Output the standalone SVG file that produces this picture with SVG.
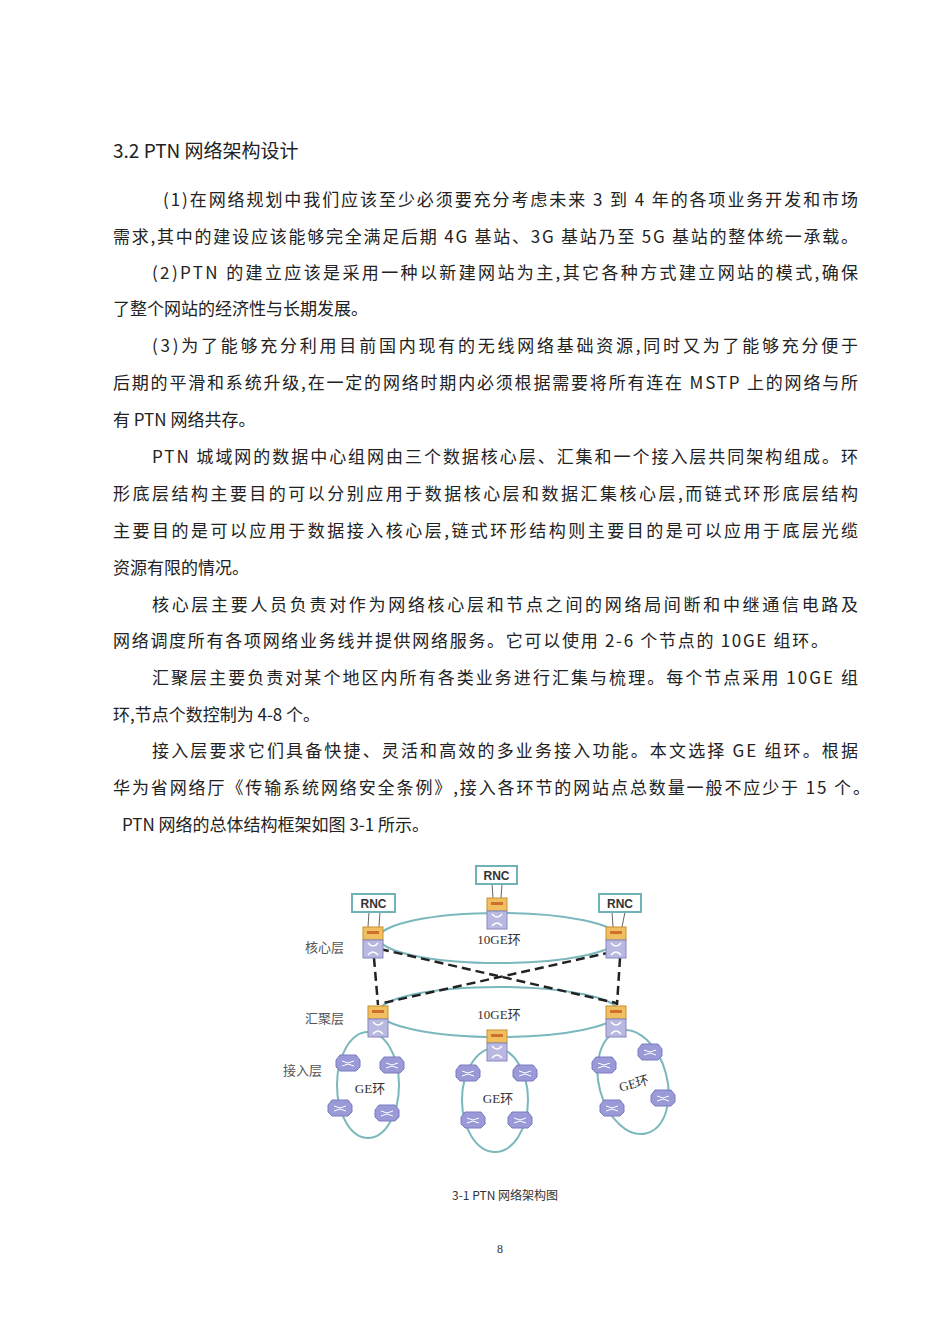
<svg xmlns="http://www.w3.org/2000/svg" width="950" height="1344" viewBox="0 0 950 1344">
<style>
.t{font-family:"Noto Sans CJK SC","Liberation Serif",serif;font-size:17px;fill:#222}
.l{font-family:"Noto Sans CJK SC",serif;font-size:13px;fill:#555}
.r{font-family:"Liberation Sans",sans-serif;font-size:12px;font-weight:bold;fill:#333}
.g{font-family:"Liberation Serif","Noto Sans CJK SC",serif;font-size:13px;fill:#333}
.ring{fill:none;stroke:#7bb8bd;stroke-width:2}
.rnc{fill:#fff;stroke:#6fb3b8;stroke-width:2}
.d{stroke:#222;stroke-width:2.5;stroke-dasharray:9,5;fill:none}
</style>
<defs>
<g id="sw"><rect x="-10" y="0" width="20" height="13" fill="#f0c060" stroke="#c89030"/><rect x="-6" y="4" width="12" height="3" fill="#d07030"/><rect x="-10" y="13" width="20" height="18" fill="#b8b8e0" stroke="#8888c0"/><path d="M-5 16 Q0 22 5 16 M-5 28 Q0 22 5 28" stroke="#fff" fill="none" stroke-width="1.5"/></g>
<g id="rt"><path d="M-12 -3 L-8 -8 L8 -8 L12 -3 L12 4 L8 8 L-8 8 L-12 4Z" fill="#9a9ad8" stroke="#7c7cc0"/><path d="M-6 -2 L0 0 L6 -2 M-6 3 L0 1 L6 3" stroke="#fff" fill="none"/></g>
</defs>
<rect width="950" height="1344" fill="#fff"/>
<text x="113" y="158" style="font-family:'Noto Sans CJK SC',sans-serif;font-size:19px;fill:#222">3.2 PTN 网络架构设计</text>
<g class="t">
<text x="163" y="206" textLength="695" lengthAdjust="spacing">(1)在网络规划中我们应该至少必须要充分考虑未来 3 到 4 年的各项业务开发和市场</text>
<text x="113" y="243" textLength="745" lengthAdjust="spacing">需求,其中的建设应该能够完全满足后期 4G 基站、3G 基站乃至 5G 基站的整体统一承载。</text>
<text x="152" y="279" textLength="706" lengthAdjust="spacing">(2)PTN 的建立应该是采用一种以新建网站为主,其它各种方式建立网站的模式,确保</text>
<text x="113" y="315">了整个网站的经济性与长期发展。</text>
<text x="152" y="352" textLength="706" lengthAdjust="spacing">(3)为了能够充分利用目前国内现有的无线网络基础资源,同时又为了能够充分便于</text>
<text x="113" y="389" textLength="745" lengthAdjust="spacing">后期的平滑和系统升级,在一定的网络时期内必须根据需要将所有连在 MSTP 上的网络与所</text>
<text x="113" y="426">有 PTN 网络共存。</text>
<text x="152" y="463" textLength="706" lengthAdjust="spacing">PTN 城域网的数据中心组网由三个数据核心层、汇集和一个接入层共同架构组成。环</text>
<text x="113" y="500" textLength="745" lengthAdjust="spacing">形底层结构主要目的可以分别应用于数据核心层和数据汇集核心层,而链式环形底层结构</text>
<text x="113" y="537" textLength="745" lengthAdjust="spacing">主要目的是可以应用于数据接入核心层,链式环形结构则主要目的是可以应用于底层光缆</text>
<text x="113" y="574">资源有限的情况。</text>
<text x="152" y="611" textLength="706" lengthAdjust="spacing">核心层主要人员负责对作为网络核心层和节点之间的网络局间断和中继通信电路及</text>
<text x="113" y="647" textLength="715" lengthAdjust="spacing">网络调度所有各项网络业务线并提供网络服务。它可以使用 2-6 个节点的 10GE 组环。</text>
<text x="152" y="684" textLength="706" lengthAdjust="spacing">汇聚层主要负责对某个地区内所有各类业务进行汇集与梳理。每个节点采用 10GE 组</text>
<text x="113" y="721">环,节点个数控制为 4-8 个。</text>
<text x="152" y="757" textLength="706" lengthAdjust="spacing">接入层要求它们具备快捷、灵活和高效的多业务接入功能。本文选择 GE 组环。根据</text>
<text x="113" y="794" textLength="757" lengthAdjust="spacing">华为省网络厅《传输系统网络安全条例》,接入各环节的网站点总数量一般不应少于 15 个。</text>
<text x="122" y="831">PTN 网络的总体结构框架如图 3-1 所示。</text>
</g>
<g id="connectors">
<ellipse class="ring" cx="499" cy="938" rx="120" ry="25"/>
<ellipse class="ring" cx="499" cy="1012" rx="120" ry="25"/>
<ellipse class="ring" cx="368" cy="1085" rx="31" ry="53"/>
<ellipse class="ring" cx="495" cy="1100" rx="33" ry="52"/>
<ellipse class="ring" cx="633" cy="1082" rx="34" ry="53" transform="rotate(-15 633 1082)"/>
<path d="M369 912 L368 927 M380 912 L379 927 M492 884 L493 898 M502 884 L501 898 M612 912 L613 927 M625 912 L622 927" stroke="#666" stroke-width="1"/>
<path class="d" d="M374 958 L378 1005 M620 958 L617 1005 M380 949 L616 1003 M612 952 L383 1003"/>
</g>
<g id="rnc1"><rect class="rnc" x="352" y="894" width="43" height="18"/><text class="r" x="373.5" y="907.5" text-anchor="middle">RNC</text></g>
<g id="rnc2"><rect class="rnc" x="476" y="866" width="41" height="18"/><text class="r" x="496.5" y="879.5" text-anchor="middle">RNC</text></g>
<g id="rnc3"><rect class="rnc" x="599" y="894" width="42" height="18"/><text class="r" x="620" y="907.5" text-anchor="middle">RNC</text></g>
<g id="core1"><use href="#sw" x="373" y="927"/></g>
<g id="core2"><use href="#sw" x="497" y="898"/></g>
<g id="core3"><use href="#sw" x="616" y="927"/></g>
<g id="agg1"><use href="#sw" x="378" y="1006"/></g>
<g id="agg2"><use href="#sw" x="497" y="1030"/></g>
<g id="agg3"><use href="#sw" x="616" y="1006"/></g>
<g id="access">
<use href="#rt" x="348" y="1063"/><use href="#rt" x="392" y="1065"/><use href="#rt" x="340" y="1108"/><use href="#rt" x="387" y="1113"/>
<use href="#rt" x="468" y="1073"/><use href="#rt" x="525" y="1073"/><use href="#rt" x="473" y="1120"/><use href="#rt" x="520" y="1120"/>
<use href="#rt" x="604" y="1065"/><use href="#rt" x="650" y="1052"/><use href="#rt" x="612" y="1108"/><use href="#rt" x="663" y="1098"/>
</g>
<g id="labels">
<text class="l" x="305" y="952">核心层</text>
<text class="l" x="305" y="1023">汇聚层</text>
<text class="l" x="283" y="1075">接入层</text>
<text class="g" x="499" y="944" text-anchor="middle">10GE环</text>
<text class="g" x="499" y="1019" text-anchor="middle">10GE环</text>
<text class="g" x="370" y="1093" text-anchor="middle">GE环</text>
<text class="g" x="498" y="1103" text-anchor="middle">GE环</text>
<text class="g" x="634" y="1088" text-anchor="middle" transform="rotate(-15 634 1084)">GE环</text>
</g>
<text x="505" y="1200" text-anchor="middle" style="font-family:'Noto Sans CJK SC',serif;font-size:12px;fill:#333">3-1 PTN 网络架构图</text>
<text x="500" y="1253" text-anchor="middle" style="font-family:'Liberation Serif',serif;font-size:12px;fill:#333">8</text>
</svg>
